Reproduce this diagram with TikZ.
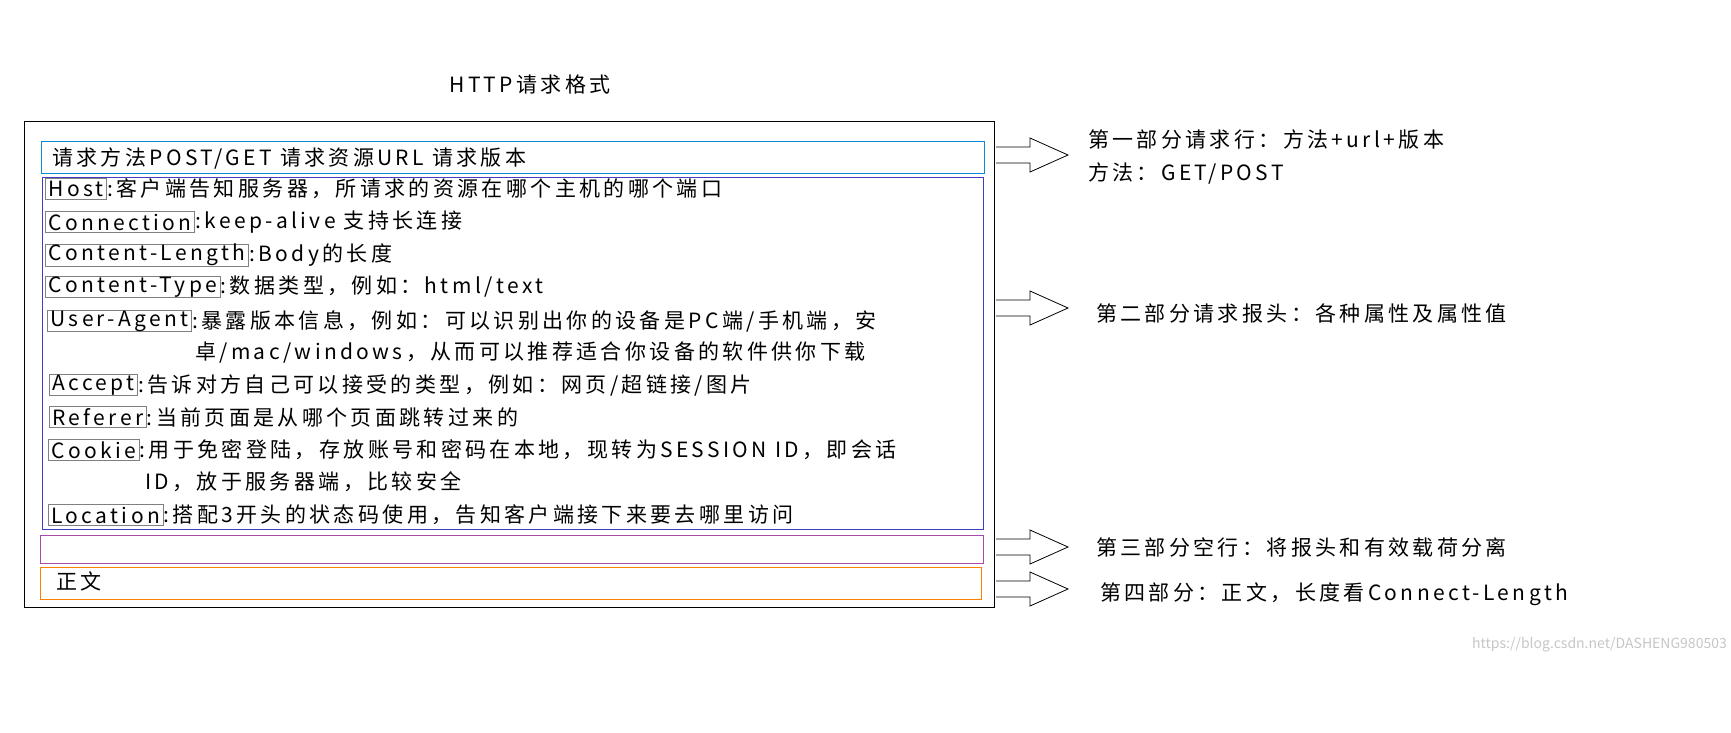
\documentclass[tikz,border=0pt]{standalone}
\usepackage{fontspec}
\setmainfont{Noto Sans CJK SC}[LetterSpace=16]
\begin{document}
\begin{tikzpicture}[x=1pt,y=-1pt,
  txt/.style={inner sep=0pt,anchor=west,font=\fontsize{21}{24}\selectfont},
  key/.style={draw=gray,line width=0.8pt,inner xsep=3pt,inner ysep=0pt,minimum height=21pt,anchor=west,font=\fontsize{21}{24}\selectfont},
  fat/.style={draw,line width=0.8pt,fill=white}]
\useasboundingbox (0,0) rectangle (1731,732);
\node[txt,anchor=center] (title) at (530,85) {HTTP请求格式};
\node[draw,line width=1pt,minimum width=970pt,minimum height=486pt,anchor=north west,inner sep=0pt] (outer) at (24,121) {};
\node[draw=cyan!70!blue,line width=0.8pt,minimum width=943pt,minimum height=32pt,anchor=north west,inner sep=0pt] (line1) at (41,141) {};
\node[draw=blue!50!gray,line width=0.8pt,minimum width=941pt,minimum height=352pt,anchor=north west,inner sep=0pt] (hdr) at (42,177) {};
\node[draw=violet!70,line width=0.8pt,minimum width=943pt,minimum height=28pt,anchor=north west,inner sep=0pt] (blank) at (40,535) {};
\node[draw=orange,line width=0.8pt,minimum width=941pt,minimum height=32pt,anchor=north west,inner sep=0pt] (body) at (40,567) {};
\node[txt] (t1) at (52,158) {请求方法POST/GET 请求资源URL 请求版本};
\node[txt] (t2) at (56,581) {正文};
\node[key] (k1) at (45,189) {Host}; \node[txt] at (k1.east) {:客户端告知服务器，所请求的资源在哪个主机的哪个端口};
\node[key] (k2) at (45,222) {Connection}; \node[txt] at (k2.east) {:keep-alive 支持长连接};
\node[key] (k3) at (45,255) {Content-Length}; \node[txt] at (k3.east) {:Body的长度};
\node[key] (k4) at (45,287) {Content-Type}; \node[txt] at (k4.east) {:数据类型，例如：html/text};
\node[key] (k5) at (47,321) {User-Agent}; \node[txt] at (k5.east) {:暴露版本信息，例如：可以识别出你的设备是PC端/手机端，安};
\node[txt] (k5b) at (195,353) {卓/mac/windows，从而可以推荐适合你设备的软件供你下载};
\node[key] (k6) at (49,385) {Accept}; \node[txt] at (k6.east) {:告诉对方自己可以接受的类型，例如：网页/超链接/图片};
\node[key] (k7) at (49,417) {Referer}; \node[txt] at (k7.east) {:当前页面是从哪个页面跳转过来的};
\node[key] (k8) at (48,450) {Cookie}; \node[txt] at (k8.east) {:用于免密登陆，存放账号和密码在本地，现转为SESSION ID，即会话};
\node[txt] (k8b) at (145,482) {ID，放于服务器端，比较安全};
\node[key] (k9) at (48,515) {Location}; \node[txt] at (k9.east) {:搭配3开头的状态码使用，告知客户端接下来要去哪里访问};
\foreach \y/\n in {155/a1,308/a2,547/a3,589/a4}{
  \coordinate (\n) at (996,\y);
  \draw[fat] (\n) ++(0,-8) -- ++(34,0) -- ++(0,-9) -- ++(38,17) -- ++(-38,17) -- ++(0,-9) -- ++(-34,0);
}
\node[txt] (r1) at (1088,140) {第一部分请求行：方法+url+版本};
\node[txt] (r1b) at (1088,173) {方法：GET/POST};
\node[txt] (r2) at (1096,313) {第二部分请求报头：各种属性及属性值};
\node[txt] (r3) at (1096,547) {第三部分空行：将报头和有效载荷分离};
\node[txt] (r4) at (1100,594) {第四部分：正文，长度看Connect-Length};
\node[anchor=east,inner sep=0pt,text=gray!45,font=\fontsize{14}{16}\selectfont\addfontfeature{LetterSpace=0}] (wm) at (1727,645) {https://blog.csdn.net/DASHENG980503};
\end{tikzpicture}
\end{document}
